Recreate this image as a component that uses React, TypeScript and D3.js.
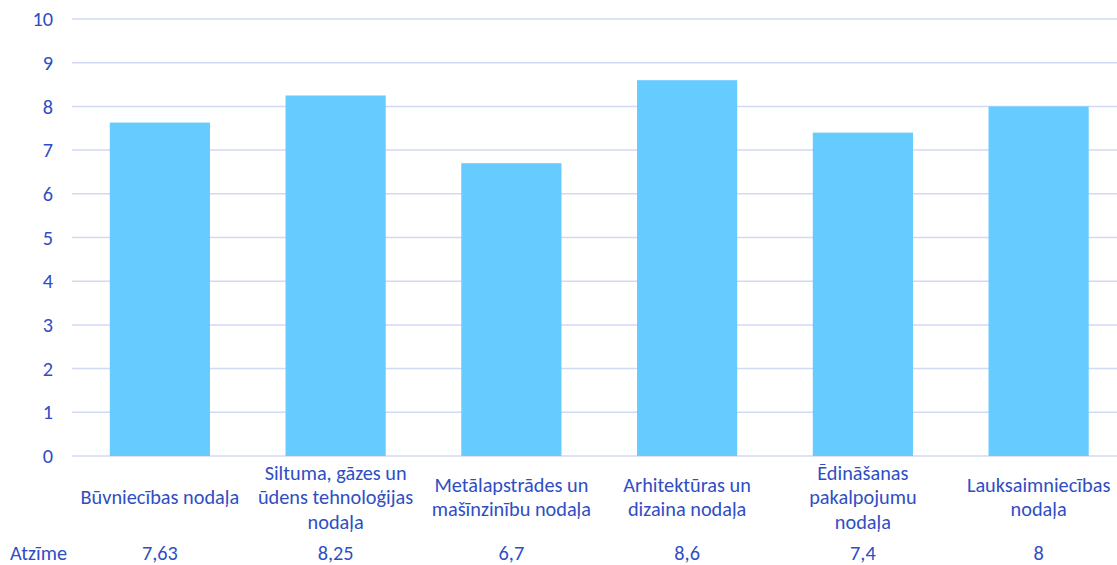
import * as d3 from "d3";
import {useRef, useEffect} from "react";

// chart values
const categories = [
    "Būvniecības nodaļa",
    "Siltuma, gāzes un\nūdens tehnoloģijas\nnodaļa",
    "Metālapstrādes un\nmašīnzinību nodaļa",
    "Arhitektūras un\ndizaina nodaļa",
    "Ēdināšanas\npakalpojumu\nnodaļa",
    "Lauksaimniecības\nnodaļa",
];
const values = [7.63, 8.25, 6.7, 8.6, 7.4, 8];
const yTicks = [0, 1, 2, 3, 4, 5, 6, 7, 8, 9, 10];
const seriesName = "Atzīme";

const App = () => {
    const container = useRef(null);

    useEffect(() => {
        const width = 1117;
        const height = 565;
        const textColor = "#2F4EC4";
        const gridColor = "#D2D9F4";
        const barColor = "#66CCFF";
        const font = "Carlito, Lato, 'Liberation Sans', sans-serif";
        const fs = 20.3;

        const el = d3.select(container.current);
        el.selectAll("*").remove();

        const svg = el.append("svg")
            .attr("width", width)
            .attr("height", height)
            .style("display", "block")
            .attr("font-family", font);

        const x = d3.scaleBand()
            .domain(d3.range(categories.length))
            .range([72, 1126.5])
            .paddingInner(0.43)
            .paddingOuter(0.215);
        const y = d3.scaleLinear().domain([0, 10]).range([456, 19]);

        // gridlines
        svg.append("g")
            .selectAll("line")
            .data(yTicks)
            .join("line")
            .attr("x1", 72)
            .attr("x2", width)
            .attr("y1", d => y(d))
            .attr("y2", d => y(d))
            .attr("stroke", gridColor)
            .attr("stroke-width", 1.5);

        // y tick labels
        svg.append("g")
            .selectAll("text")
            .data(yTicks)
            .join("text")
            .attr("x", 53)
            .attr("y", d => y(d))
            .attr("dy", "0.35em")
            .attr("text-anchor", "end")
            .attr("font-size", fs)
            .attr("fill", textColor)
            .text(d => d);

        // bars
        svg.append("g")
            .selectAll("rect")
            .data(values)
            .join("rect")
            .attr("x", (d, i) => x(i))
            .attr("y", d => y(d))
            .attr("width", x.bandwidth())
            .attr("height", d => y(0) - y(d))
            .attr("fill", barColor);

        // category labels, centred vertically around one line
        const lineH = 24.5;
        const cat = svg.append("g")
            .attr("font-size", fs)
            .attr("fill", textColor)
            .attr("text-anchor", "middle");
        categories.forEach((c, i) => {
            const lines = c.split("\n");
            const cx = x(i) + x.bandwidth() / 2;
            const top = 497 - (lines.length - 1) * lineH / 2;
            cat.append("text")
                .selectAll("tspan")
                .data(lines)
                .join("tspan")
                .attr("x", cx)
                .attr("y", (d, j) => top + j * lineH)
                .attr("dy", "0.35em")
                .text(d => d);
        });

        // data table row
        const rowY = 553;
        svg.append("text")
            .attr("x", 10)
            .attr("y", rowY)
            .attr("dy", "0.35em")
            .attr("font-size", fs)
            .attr("fill", textColor)
            .text(seriesName);

        svg.append("g")
            .selectAll("text")
            .data(values)
            .join("text")
            .attr("x", (d, i) => x(i) + x.bandwidth() / 2)
            .attr("y", rowY)
            .attr("dy", "0.35em")
            .attr("text-anchor", "middle")
            .attr("font-size", fs)
            .attr("fill", textColor)
            .text(d => String(d).replace(".", ","));
    }, []);

    return (
        <div ref={container} style={{position: "absolute", left: 0, top: 0}}></div>
    );
};

export default App;
